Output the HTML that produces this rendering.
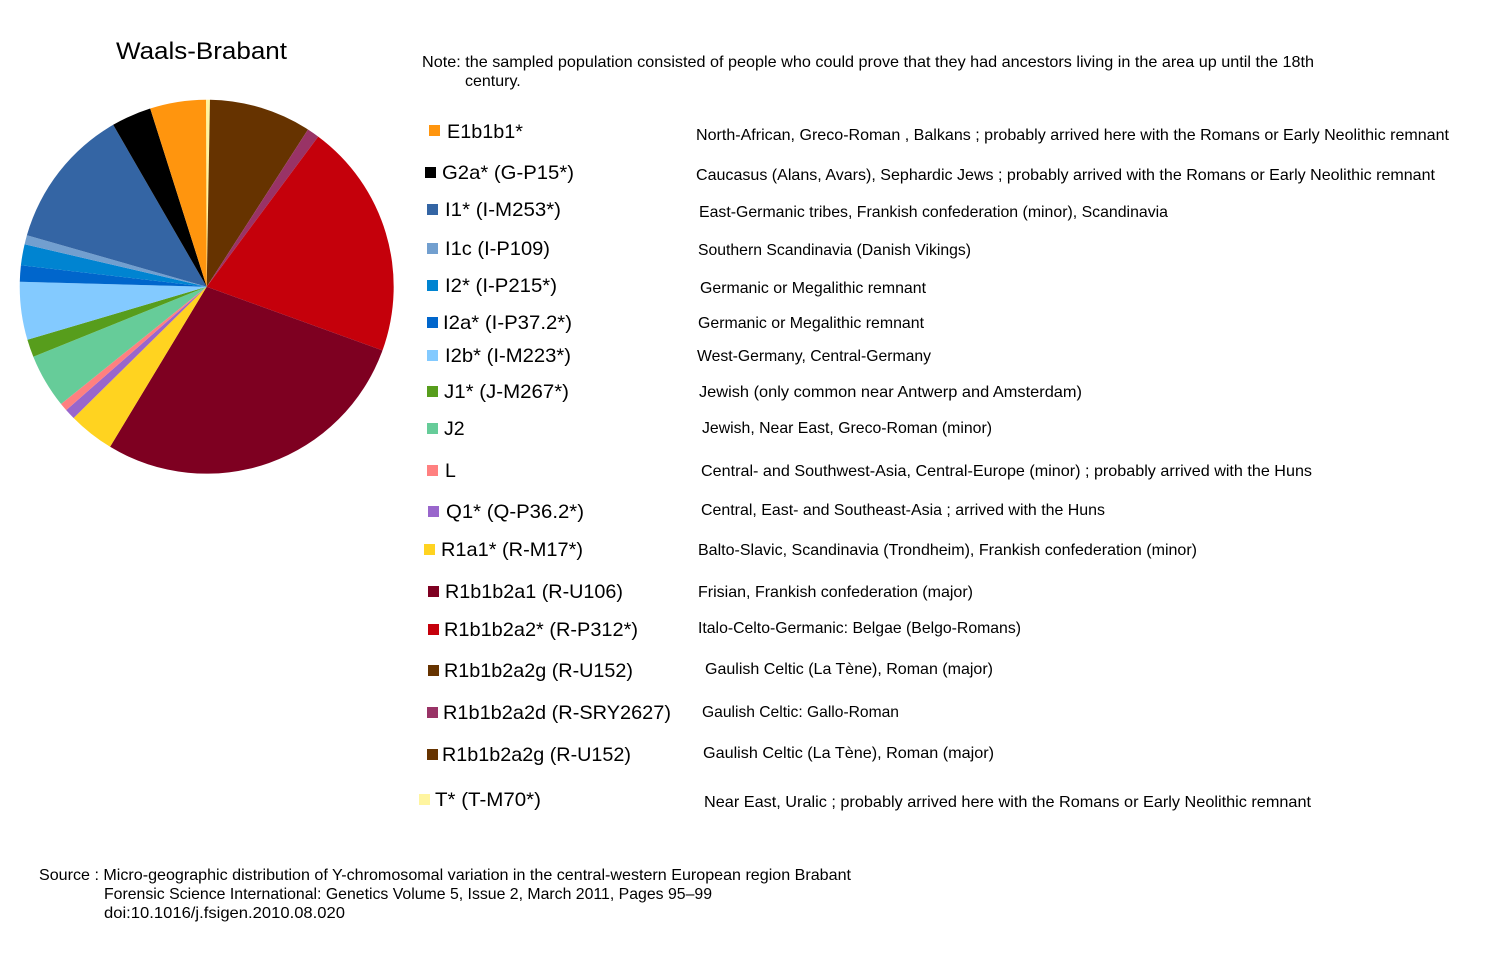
<!DOCTYPE html>
<html><head><meta charset="utf-8"><style>
html,body{margin:0;padding:0;background:#fff;}
svg{display:block;}
text{font-family:"Liberation Sans",sans-serif;}
.l{font-size:19.5px;fill:#000;}
.d{font-size:16px;fill:#000;}
</style></head><body>
<svg width="1500" height="972" viewBox="0 0 1500 972" xmlns="http://www.w3.org/2000/svg">
<rect width="1500" height="972" fill="#fff"/>
<text x="116" y="59" font-size="24" textLength="171" lengthAdjust="spacingAndGlyphs">Waals-Brabant</text>
<g stroke="none">
<path d="M206.7,286.7 L206.0,99.7 A187,187 0 0 1 209.96,99.7Z" fill="#FFF5A0"/>
<path d="M206.7,286.7 L209.96,99.7 A187,187 0 0 1 308.0,129.5Z" fill="#663300"/>
<path d="M206.7,286.7 L308.0,129.5 A187,187 0 0 1 318.2,136.6Z" fill="#993366"/>
<path d="M206.7,286.7 L318.2,136.6 A187,187 0 0 1 382.5,350.4Z" fill="#C5000B"/>
<path d="M206.7,286.7 L382.5,350.4 A187,187 0 0 1 110.1,446.8Z" fill="#7E0021"/>
<path d="M206.7,286.7 L110.1,446.8 A187,187 0 0 1 73.6,418.0Z" fill="#FFD320"/>
<path d="M206.7,286.7 L73.6,418.0 A187,187 0 0 1 66.2,410.1Z" fill="#9966CC"/>
<path d="M206.7,286.7 L66.2,410.1 A187,187 0 0 1 61.0,404.0Z" fill="#FF8080"/>
<path d="M206.7,286.7 L61.0,404.0 A187,187 0 0 1 33.3,356.7Z" fill="#66CC99"/>
<path d="M206.7,286.7 L33.3,356.7 A187,187 0 0 1 27.4,339.8Z" fill="#579D1C"/>
<path d="M206.7,286.7 L27.4,339.8 A187,187 0 0 1 19.8,281.8Z" fill="#83CAFF"/>
<path d="M206.7,286.7 L19.8,281.8 A187,187 0 0 1 20.9,265.2Z" fill="#0066CC"/>
<path d="M206.7,286.7 L20.9,265.2 A187,187 0 0 1 24.6,244.3Z" fill="#0084D1"/>
<path d="M206.7,286.7 L24.6,244.3 A187,187 0 0 1 26.9,235.2Z" fill="#729FCF"/>
<path d="M206.7,286.7 L26.9,235.2 A187,187 0 0 1 113.2,124.8Z" fill="#3465A4"/>
<path d="M206.7,286.7 L113.2,124.8 A187,187 0 0 1 150.2,108.5Z" fill="#000000"/>
<path d="M206.7,286.7 L150.2,108.5 A187,187 0 0 1 206.0,99.7Z" fill="#FF950E"/>
</g>
<text class="d" x="422" y="67" textLength="892" lengthAdjust="spacingAndGlyphs">Note: the sampled population consisted of people who could prove that they had ancestors living in the area up until the 18th</text>
<text class="d" x="465" y="86">century.</text>

<g>
<rect x="429" y="125" width="11" height="11" fill="#FF950E"/><text class="l" x="447" y="138" textLength="76" lengthAdjust="spacingAndGlyphs">E1b1b1*</text>
<rect x="425" y="167" width="11" height="11" fill="#000"/><text class="l" x="442" y="179" textLength="132" lengthAdjust="spacingAndGlyphs">G2a* (G-P15*)</text>
<rect x="427" y="204" width="11" height="11" fill="#3465A4"/><text class="l" x="445" y="216" textLength="116" lengthAdjust="spacingAndGlyphs">I1* (I-M253*)</text>
<rect x="427" y="243" width="11" height="11" fill="#729FCF"/><text class="l" x="445" y="255" textLength="105" lengthAdjust="spacingAndGlyphs">I1c (I-P109)</text>
<rect x="427" y="280" width="11" height="11" fill="#0084D1"/><text class="l" x="445" y="292" textLength="112" lengthAdjust="spacingAndGlyphs">I2* (I-P215*)</text>
<rect x="427" y="317" width="11" height="11" fill="#0066CC"/><text class="l" x="443" y="329" textLength="129" lengthAdjust="spacingAndGlyphs">I2a* (I-P37.2*)</text>
<rect x="427" y="350" width="11" height="11" fill="#83CAFF"/><text class="l" x="445" y="362" textLength="126" lengthAdjust="spacingAndGlyphs">I2b* (I-M223*)</text>
<rect x="427" y="386" width="11" height="11" fill="#579D1C"/><text class="l" x="444" y="398" textLength="125" lengthAdjust="spacingAndGlyphs">J1* (J-M267*)</text>
<rect x="427" y="423" width="11" height="11" fill="#66CC99"/><text class="l" x="444" y="435">J2</text>
<rect x="427" y="465" width="11" height="11" fill="#FF8080"/><text class="l" x="445" y="477">L</text>
<rect x="428" y="506" width="11" height="11" fill="#9966CC"/><text class="l" x="446" y="518" textLength="138" lengthAdjust="spacingAndGlyphs">Q1* (Q-P36.2*)</text>
<rect x="424" y="544" width="11" height="11" fill="#FFD320"/><text class="l" x="441" y="556" textLength="142" lengthAdjust="spacingAndGlyphs">R1a1* (R-M17*)</text>
<rect x="428" y="586" width="11" height="11" fill="#7E0021"/><text class="l" x="445" y="598" textLength="178" lengthAdjust="spacingAndGlyphs">R1b1b2a1 (R-U106)</text>
<rect x="428" y="624" width="11" height="11" fill="#C5000B"/><text class="l" x="444" y="636" textLength="194" lengthAdjust="spacingAndGlyphs">R1b1b2a2* (R-P312*)</text>
<rect x="428" y="665" width="11" height="11" fill="#663300"/><text class="l" x="444" y="677" textLength="189" lengthAdjust="spacingAndGlyphs">R1b1b2a2g (R-U152)</text>
<rect x="427" y="707" width="11" height="11" fill="#993366"/><text class="l" x="443" y="719" textLength="228" lengthAdjust="spacingAndGlyphs">R1b1b2a2d (R-SRY2627)</text>
<rect x="427" y="749" width="11" height="11" fill="#663300"/><text class="l" x="442" y="761" textLength="189" lengthAdjust="spacingAndGlyphs">R1b1b2a2g (R-U152)</text>
<rect x="419" y="794" width="11" height="11" fill="#FFF5A0"/><text class="l" x="435" y="806" textLength="106" lengthAdjust="spacingAndGlyphs">T* (T-M70*)</text>
</g>

<g>
<text class="d" x="696" y="140" textLength="753" lengthAdjust="spacingAndGlyphs">North-African, Greco-Roman , Balkans ; probably arrived here with the Romans  or Early Neolithic remnant</text>
<text class="d" x="696" y="180" textLength="739" lengthAdjust="spacingAndGlyphs">Caucasus (Alans, Avars), Sephardic Jews ; probably arrived with the Romans  or Early Neolithic remnant</text>
<text class="d" x="699" y="217" textLength="469" lengthAdjust="spacingAndGlyphs">East-Germanic tribes, Frankish confederation (minor), Scandinavia</text>
<text class="d" x="698" y="255" textLength="273" lengthAdjust="spacingAndGlyphs">Southern Scandinavia (Danish Vikings)</text>
<text class="d" x="700" y="293" textLength="226" lengthAdjust="spacingAndGlyphs">Germanic or Megalithic remnant</text>
<text class="d" x="698" y="328" textLength="226" lengthAdjust="spacingAndGlyphs">Germanic or Megalithic remnant</text>
<text class="d" x="697" y="361" textLength="234" lengthAdjust="spacingAndGlyphs">West-Germany, Central-Germany</text>
<text class="d" x="699" y="397" textLength="383" lengthAdjust="spacingAndGlyphs">Jewish  (only common near Antwerp and Amsterdam)</text>
<text class="d" x="702" y="433" textLength="290" lengthAdjust="spacingAndGlyphs">Jewish, Near East, Greco-Roman (minor)</text>
<text class="d" x="701" y="476" textLength="611" lengthAdjust="spacingAndGlyphs">Central- and Southwest-Asia, Central-Europe (minor) ; probably arrived with the Huns</text>
<text class="d" x="701" y="515" textLength="404" lengthAdjust="spacingAndGlyphs">Central, East- and Southeast-Asia ; arrived with the Huns</text>
<text class="d" x="698" y="555" textLength="499" lengthAdjust="spacingAndGlyphs">Balto-Slavic, Scandinavia (Trondheim), Frankish confederation (minor)</text>
<text class="d" x="698" y="597" textLength="275" lengthAdjust="spacingAndGlyphs">Frisian, Frankish confederation (major)</text>
<text class="d" x="698" y="633" textLength="323" lengthAdjust="spacingAndGlyphs">Italo-Celto-Germanic: Belgae (Belgo-Romans)</text>
<text class="d" x="705" y="674" textLength="288" lengthAdjust="spacingAndGlyphs">Gaulish Celtic (La Tène), Roman (major)</text>
<text class="d" x="702" y="717" textLength="197" lengthAdjust="spacingAndGlyphs">Gaulish Celtic: Gallo-Roman</text>
<text class="d" x="703" y="758" textLength="291" lengthAdjust="spacingAndGlyphs">Gaulish Celtic (La Tène), Roman  (major)</text>
<text class="d" x="704" y="807" textLength="607" lengthAdjust="spacingAndGlyphs">Near East, Uralic ;  probably arrived here with the Romans  or Early Neolithic remnant</text>
</g>

<text class="d" x="39" y="880" textLength="812" lengthAdjust="spacingAndGlyphs">Source : Micro-geographic distribution of Y-chromosomal variation in the central-western European region Brabant</text>
<text class="d" x="104" y="899" textLength="608" lengthAdjust="spacingAndGlyphs">Forensic Science International: Genetics Volume 5, Issue 2, March 2011, Pages 95–99</text>
<text class="d" x="104" y="918" textLength="241" lengthAdjust="spacingAndGlyphs">doi:10.1016/j.fsigen.2010.08.020</text>
</svg>
</body></html>
